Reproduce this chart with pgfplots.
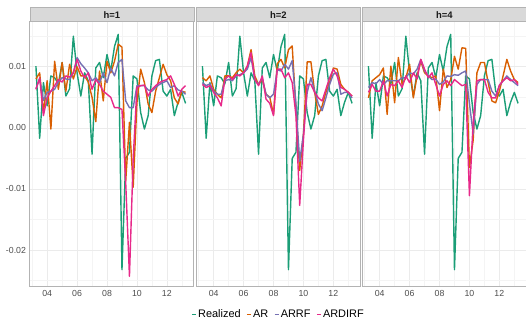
\documentclass[border=0pt]{standalone}
\usepackage{fontspec}
\setmainfont{Liberation Sans}
\usepackage{pgfplots}
\usepackage{pgfplotstable}
\pgfplotsset{compat=1.18}

\definecolor{cReal}{HTML}{1B9E77}
\definecolor{cAR}{HTML}{D95F02}
\definecolor{cRF}{HTML}{7570B3}
\definecolor{cDI}{HTML}{E7298A}
\definecolor{gridmaj}{HTML}{EBEBEB}
\definecolor{gridmin}{HTML}{F4F4F4}
\definecolor{border}{HTML}{B3B3B3}
\definecolor{stripfill}{HTML}{D9D9D9}
\definecolor{tickcol}{HTML}{4D4D4D}

% values in units of 0.01 (ticks relabelled below)
\pgfplotstableread{
t       real   ar1    rf1   di1    ar2    rf2    di2    ar4    rf4    di4
2003.25  1.01  0.80  0.64  0.63   0.82   0.74   0.71   0.49   0.66   0.58
2003.50 -0.17  0.90  0.80  0.82   0.77   0.69   0.66   0.77   0.74   0.71
2003.75  0.74  0.25  0.45  0.20   0.85   0.72   0.69   0.82   0.72   0.60
2004.00  0.36  0.77  0.58  0.49   0.63   0.60   0.58   0.87   0.79   0.60
2004.25  0.85 -0.02  0.60  0.60   0.55   0.55   0.49   0.98   0.71   0.77
2004.50  0.82  1.09  0.63  0.69   0.49   0.55   0.36   0.22   0.77   0.52
2004.75  0.72  0.63  0.75  0.79   0.85   0.77   0.79   1.01   0.77   0.71
2005.00  1.07  1.07  0.82  0.75   0.85   0.79   0.85   0.41   0.77   0.69
2005.25  0.52  0.60  0.80  0.85   0.82   0.77   0.79   1.15   0.77   0.77
2005.50  0.64  1.04  0.79  0.83   0.90   0.85   0.87   0.71   0.82   0.66
2005.75  1.50  0.80  0.90  0.90   0.96   0.87   0.85   0.82   0.82   0.85
2006.00  0.90  1.00  1.15  1.12   0.90   0.90   0.90   1.04   0.90   0.74
2006.25  0.52  0.85  1.05  0.93   1.01   0.96   1.01   0.49   0.88   0.90
2006.50  0.90  0.85  0.98  0.82   1.28   1.15   1.23   0.85   0.96   0.80
2006.75  0.77  0.75  0.90  0.90   0.85   0.79   0.79   1.09   1.12   1.12
2007.00 -0.43  0.50  0.77  0.63   0.71   0.71   0.69   0.90   0.93   0.96
2007.25  0.98  0.10  0.82  0.79   0.79   0.82   0.85   0.85   0.85   0.82
2007.50  1.07  0.93  0.74  0.71   0.55   0.55   0.47   0.82   0.79   0.90
2007.75  0.82  0.44  0.90  0.60   0.50   0.49   0.40   0.85   0.80   0.71
2008.00  1.20  1.09  0.74  0.55   0.22   0.55   0.20   0.28   0.71   0.52
2008.25  0.93  0.90  0.98  0.50   1.05   0.95   0.96   0.96   0.75   0.71
2008.50  1.33  1.09  0.85  0.33   1.12   0.93   0.96   0.66   0.85   0.77
2008.75  1.53  1.37  1.07  0.33   0.98   1.04   0.82   0.79   0.84   0.69
2009.00 -2.32  1.32  1.12  0.30   1.28   0.96   0.90   1.17   0.87   0.79
2009.25 -0.50 -0.87  0.44 -0.90   1.34   1.10   0.74   0.96   0.86   0.74
2009.50 -0.40  0.09  0.33 -2.43   0.30   0.40   0.20   1.31   0.90   0.69
2009.75  0.85 -0.97  0.33 -0.50  -0.70  -0.55  -1.27   1.30   0.93   0.71
2010.00  0.80  0.41  0.69  0.66  -0.10  -0.10  -0.20  -0.65   0.40  -1.11
2010.25  0.25  0.96  0.69  0.69   1.08   0.58   0.71  -0.20  -0.10   0.10
2010.50 -0.02  0.74  0.69  0.70   1.08   0.82   0.71   0.90   0.71   0.77
2010.75  0.20  0.39  0.62  0.52   0.58   0.60   0.58   1.07   0.79   0.79
2011.00  0.85  0.25  0.60  0.63   0.22   0.39   0.49   1.07   0.79   0.79
2011.25  1.10  0.60  0.66  0.69   0.36   0.28   0.44   0.74   0.79   0.58
2011.50  1.12  0.82  0.71  0.74   0.58   0.49   0.63   0.44   0.60   0.49
2011.75  0.60  1.04  0.74  0.77   0.74   0.71   0.82   0.41   0.52   0.49
2012.00  0.52  0.87  0.77  0.79   0.98   0.88   0.96   0.60   0.69   0.70
2012.25  0.63  0.77  0.66  0.85   0.96   0.90   0.85   0.85   0.77   0.77
2012.50  0.20  0.49  0.69  0.71   0.71   0.55   0.66   1.12   0.85   0.82
2012.75  0.42  0.39  0.62  0.52   0.63   0.58   0.63   0.93   0.79   0.77
2013.00  0.58  0.60  0.60  0.63   0.58   0.58   0.58   0.79   0.74   0.79
2013.25  0.40  0.58  0.55  0.69   0.52   0.49   0.52   0.74   0.69   0.71
}\fc

\pgfplotsset{
  panel/.style={
    scale only axis, width=164bp, height=265bp,
    xmin=2002.82, xmax=2013.78, ymin=-2.6, ymax=1.737,
    xtick={2004,2006,2008,2010,2012}, xticklabels={04,06,08,10,12},
    minor xtick={2003,2005,2007,2009,2011,2013},
    ytick={-2,-1,0,1}, minor ytick={-2.5,-1.5,-0.5,0.5,1.5},
    grid=both,
    major grid style={color=gridmaj, line width=0.6bp},
    minor grid style={color=gridmin, line width=0.4bp},
    axis line style={color=border, line width=0.9bp},
    tick style={draw=none},
    tick label style={font=\fontsize{8.8}{10}\selectfont, text=tickcol},
    every axis plot/.append style={line width=1.4bp, line join=round},
    legend image code/.code={\draw[#1] (0bp,0bp) -- (4.5bp,0bp);},
  },
}
\tikzset{
  strip/.style={anchor=south west, minimum width=164bp, minimum height=13.3bp,
    inner sep=0pt, fill=stripfill, draw=border, line width=0.9bp,
    font=\bfseries\fontsize{9.5}{10}\selectfont, text=black!90},
}

\begin{document}
\begin{tikzpicture}
\path[use as bounding box] (0,0) rectangle (526bp,322bp);

\begin{axis}[panel, name=p1, at={(29.5bp,35.3bp)}, anchor=south west,
  yticklabels={-0.02,-0.01,0.00,0.01}]
  \addplot[cReal] table[x=t, y=real] {\fc};
  \addplot[cAR]   table[x=t, y=ar1]  {\fc};
  \addplot[cRF]   table[x=t, y=rf1]  {\fc};
  \addplot[cDI]   table[x=t, y=di1]  {\fc};
\end{axis}

\begin{axis}[panel, name=p2, at={(196bp,35.3bp)}, anchor=south west,
  yticklabels={},
  legend columns=4,
  legend style={at={(0.5,-0.105)}, anchor=center, draw=none, fill=none,
    font=\fontsize{11}{13}\selectfont,
    nodes={inner xsep=1bp, inner ysep=0bp},
    /tikz/every even column/.append style={column sep=4.5bp}}]
  \addplot[cReal] table[x=t, y=real] {\fc};
  \addplot[cAR]   table[x=t, y=ar2]  {\fc};
  \addplot[cRF]   table[x=t, y=rf2]  {\fc};
  \addplot[cDI]   table[x=t, y=di2]  {\fc};
  \legend{Realized,AR,ARRF,ARDIRF}
\end{axis}

\begin{axis}[panel, name=p3, at={(362bp,35.3bp)}, anchor=south west,
  yticklabels={}]
  \addplot[cReal] table[x=t, y=real] {\fc};
  \addplot[cAR]   table[x=t, y=ar4]  {\fc};
  \addplot[cRF]   table[x=t, y=rf4]  {\fc};
  \addplot[cDI]   table[x=t, y=di4]  {\fc};
\end{axis}

\node[strip] at (p1.north west) {h=1};
\node[strip] at (p2.north west) {h=2};
\node[strip] at (p3.north west) {h=4};
\end{tikzpicture}
\end{document}
